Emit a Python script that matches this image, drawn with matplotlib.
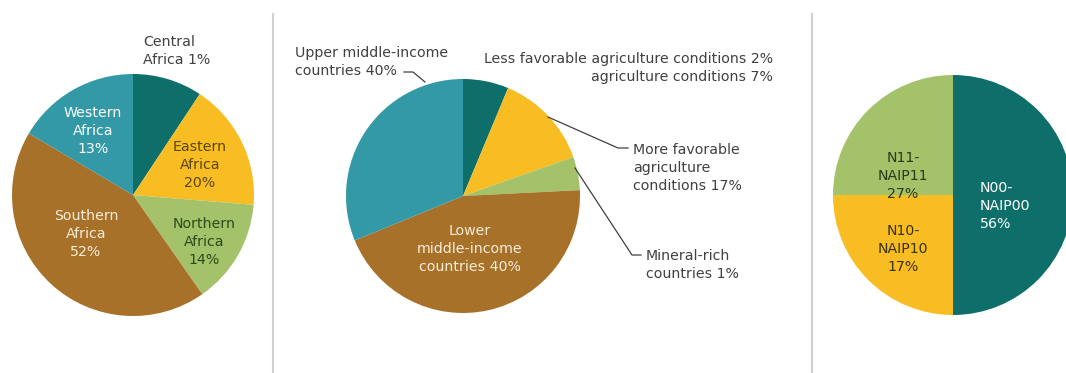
import matplotlib.pyplot as plt

# Pie 1: African regions (slice shares as drawn, label percentages as printed)
regions = ["Central\nAfrica", "Eastern\nAfrica", "Northern\nAfrica", "Southern\nAfrica", "Western\nAfrica"]
region_shares = [9.3, 17.0, 14.0, 43.2, 16.5]
region_pct = [1, 20, 14, 52, 13]

# Pie 2: country groups
groups = ["Less favorable agriculture conditions", "More favorable agriculture conditions",
          "Mineral-rich countries", "Lower middle-income countries", "Upper middle-income countries"]
group_shares = [6.3, 13.3, 4.6, 44.6, 31.2]
group_pct = [7, 17, 1, 40, 40]

# Pie 3: scenarios
scenarios = ["N00-\nNAIP00", "N10-\nNAIP10", "N11-\nNAIP11"]
scenario_shares = [50, 25, 25]
scenario_pct = [56, 17, 27]

teal = "#0e6e6a"
yellow = "#f8bd22"
green = "#a3c26a"
brown = "#a8712a"
blue = "#3399a6"
grey = "#404040"

W, H = 1066, 373
fig = plt.figure(figsize=(W / 100, H / 100), dpi=100)
ax = fig.add_axes([0, 0, 1, 1])
plt.rcParams["font.family"] = "DejaVu Sans"
fs = 10.2


def Y(y):
    # pixel row from top -> data y
    return H - y


ax.pie(region_shares, colors=[teal, yellow, green, brown, blue], startangle=90,
       counterclock=False, center=(133, Y(195)), radius=121)
ax.pie(group_shares, colors=[teal, yellow, green, brown, blue], startangle=90,
       counterclock=False, center=(463, Y(196)), radius=117)
ax.pie(scenario_shares, colors=[teal, yellow, green], startangle=90,
       counterclock=False, center=(953, Y(195)), radius=120)

ax.set_xlim(0, W)
ax.set_ylim(0, H)
ax.set_aspect("equal")
ax.axis("off")

# separators
ax.plot([273, 273], [Y(14), Y(373)], color="#d0d0d0", lw=1.5)
ax.plot([812, 812], [Y(14), Y(373)], color="#d0d0d0", lw=1.5)

kw = dict(fontsize=fs, linespacing=1.35)

# pie 1 labels
ax.text(143, Y(51), f"{regions[0]} {region_pct[0]}%", ha="left", va="center", color=grey, **kw)
ax.text(200, Y(165), f"{regions[1]}\n{region_pct[1]}%", ha="center", va="center", color="#5a4600", **kw)
ax.text(204, Y(242), f"{regions[2]}\n{region_pct[2]}%", ha="center", va="center", color="#2e4a1a", **kw)
ax.text(86, Y(234), f"{regions[3]}\n{region_pct[3]}%", ha="center", va="center", color="#f7ecd8", **kw)
ax.text(93, Y(131), f"{regions[4]}\n{region_pct[4]}%", ha="center", va="center", color="white", **kw)

# pie 2 labels
ax.text(295, Y(62), f"Upper middle-income\ncountries {group_pct[4]}%", ha="left", va="center", color=grey, **kw)
ax.plot([404, 413, 425], [Y(72), Y(72), Y(82)], color=grey, lw=0.9)
ax.text(773, Y(68), "Less favorable agriculture conditions 2%\nagriculture conditions 7%",
        ha="right", va="center", color=grey, **kw)
ax.text(633, Y(168), f"More favorable\nagriculture\nconditions {group_pct[1]}%", ha="left", va="center", color=grey, **kw)
ax.plot([548, 618, 628], [Y(117), Y(148), Y(148)], color=grey, lw=0.9)
ax.text(646, Y(265), f"Mineral-rich\ncountries {group_pct[2]}%", ha="left", va="center", color=grey, **kw)
ax.plot([575, 632, 641], [Y(168), Y(255), Y(255)], color=grey, lw=0.9)
ax.text(470, Y(249), f"Lower\nmiddle-income\ncountries {group_pct[3]}%", ha="center", va="center", color="#f7ecd8", **kw)

# pie 3 labels
ax.text(903, Y(176), f"{scenarios[2]}\n{scenario_pct[2]}%", ha="center", va="center", color="#2a3a1a", **kw)
ax.text(903, Y(249), f"{scenarios[1]}\n{scenario_pct[1]}%", ha="center", va="center", color="#3a3000", **kw)
ax.text(980, Y(206), f"{scenarios[0]}\n{scenario_pct[0]}%", ha="left", va="center", color="white", **kw)

fig.savefig("out.png", dpi=100)
